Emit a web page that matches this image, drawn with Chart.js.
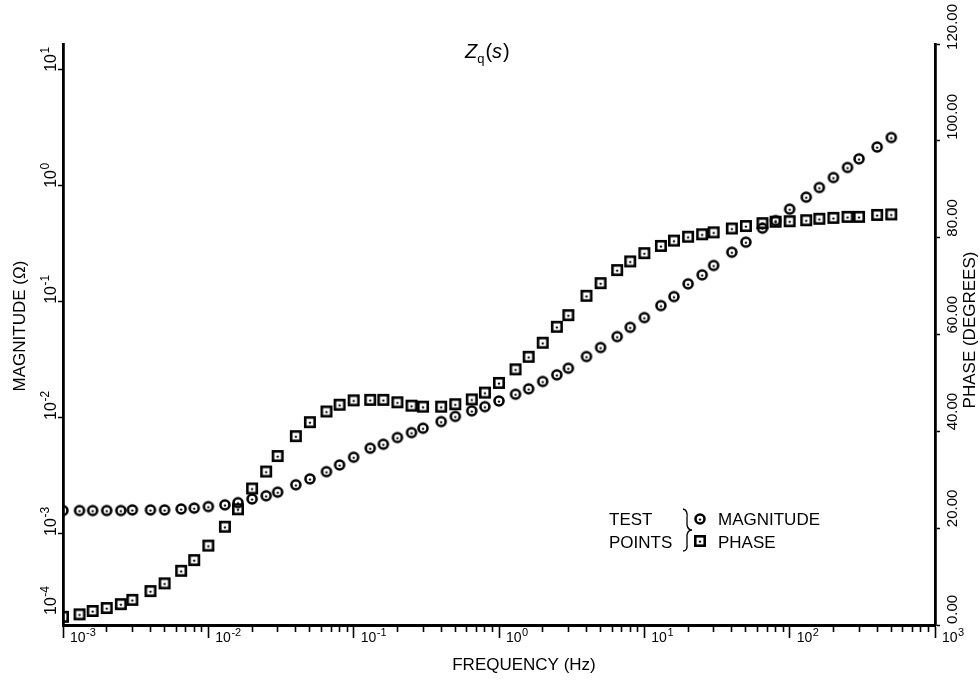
<!DOCTYPE html>
<html>
<head>
<meta charset="utf-8">
<script src="https://cdn.jsdelivr.net/npm/chart.js@4.4.1/dist/chart.umd.min.js"></script>
<style>
  body { margin: 0; background: #fff; }
</style>
</head>
<body>
<canvas id="myChart" width="980" height="685"></canvas>
<script>
// test frequencies (Hz)
var frequency = [
  0.001, 0.0013, 0.0016, 0.002, 0.0025, 0.003, 0.004, 0.005, 0.0065, 0.008,
  0.01, 0.013, 0.016, 0.02, 0.025, 0.03, 0.04, 0.05, 0.065, 0.08,
  0.1, 0.13, 0.16, 0.2, 0.25, 0.3, 0.4, 0.5, 0.65, 0.8,
  1, 1.3, 1.6, 2, 2.5, 3, 4, 5, 6.5, 8,
  10, 13, 16, 20, 25, 30, 40, 50, 65, 80,
  100, 130, 160, 200, 250, 300, 400, 500
];
// |Zq| in ohms
var magnitude = [
  0.00159, 0.00159, 0.00159, 0.00159, 0.00159, 0.00161, 0.00161, 0.00161, 0.00164, 0.00167,
  0.00172, 0.00178, 0.00186, 0.00200, 0.00213, 0.00229, 0.00265, 0.00298, 0.00344, 0.00393,
  0.00458, 0.00548, 0.00593, 0.00677, 0.00747, 0.00815, 0.00929, 0.0103, 0.0115, 0.0125,
  0.0140, 0.0160, 0.0178, 0.0206, 0.0235, 0.0268, 0.0338, 0.0404, 0.0502, 0.0603,
  0.0732, 0.0929, 0.111, 0.143, 0.171, 0.206, 0.268, 0.327, 0.432, 0.502,
  0.630, 0.799, 0.967, 1.18, 1.44, 1.71, 2.16, 2.61
];
// phase in degrees
var phase = [
  1.7, 2.2, 2.9, 3.5, 4.3, 5.2, 7.0, 8.6, 11.2, 13.4,
  16.4, 20.3, 23.9, 28.2, 31.7, 34.9, 39.0, 41.9, 44.1, 45.5,
  46.4, 46.5, 46.5, 46.0, 45.3, 45.1, 45.1, 45.6, 46.6, 48.0,
  50.0, 52.8, 55.4, 58.3, 61.6, 64.0, 68.0, 70.6, 73.3, 75.1,
  76.8, 78.3, 79.4, 80.2, 80.7, 81.1, 81.9, 82.4, 83.0, 83.3,
  83.4, 83.6, 83.9, 84.1, 84.3, 84.3, 84.7, 84.8
];

// axis ticks and labels
var freqDecades = [0.001, 0.01, 0.1, 1, 10, 100, 1000];
var freqExponents = ['-3', '-2', '-1', '0', '1', '2', '3'];
var magDecades = [0.0001, 0.001, 0.01, 0.1, 1, 10];
var magExponents = ['-4', '-3', '-2', '-1', '0', '1'];
var phaseTicks = [0, 20, 40, 60, 80, 100, 120];
var phaseLabels = ['0.00', '20.00', '40.00', '60.00', '80.00', '100.00', '120.00'];

var magMin = 1.64e-4, magMax = 16.7;
var FONT = '"Liberation Sans", Arial, Helvetica, sans-serif';

function makeMark(kind) {
  var c = document.createElement('canvas');
  c.width = 14; c.height = 14;
  var g = c.getContext('2d');
  g.strokeStyle = '#000';
  g.fillStyle = '#000';
  g.lineWidth = 2.6;
  if (kind == 'circle') {
    g.beginPath();
    g.arc(7, 7, 4.5, 0, Math.PI * 2);
    g.stroke();
  } else {
    g.strokeRect(2.3, 2.3, 9.4, 9.4);
  }
  g.beginPath();
  g.arc(7, 7.6, 1.2, 0, Math.PI * 2);
  g.fill();
  return c;
}
var circleMark = makeMark('circle');
var squareMark = makeMark('square');

// minor tick positions for the frequency axis
var freqTicks = [];
freqDecades.forEach(function (d, i) {
  freqTicks.push({ value: d, major: true });
  if (i < freqDecades.length - 1) {
    for (var k = 2; k <= 9; k++) freqTicks.push({ value: d * k, major: false });
  }
});

function powText(ctx, base, exp, x, y, size) {
  ctx.font = size + 'px ' + FONT;
  ctx.fillText(base, x, y);
  var w = ctx.measureText(base).width;
  ctx.font = Math.round(size * 0.75) + 'px ' + FONT;
  ctx.fillText(exp, x + w + 0.5, y - size * 0.45);
}

var textPlugin = {
  id: 'texts',
  afterDraw: function (chart) {
    var ctx = chart.ctx;
    var area = chart.chartArea;
    var xs = chart.scales.x, ys = chart.scales.y, ps = chart.scales.y2;
    ctx.save();
    ctx.fillStyle = '#000';
    ctx.textAlign = 'left';
    ctx.textBaseline = 'alphabetic';

    // frequency tick labels
    freqDecades.forEach(function (v, i) {
      powText(ctx, '10', freqExponents[i], xs.getPixelForValue(v) + 7, 642, 14);
    });

    // magnitude tick labels (rotated)
    magDecades.forEach(function (v, i) {
      var py = Math.min(ys.getPixelForValue(v), area.bottom - 12);
      ctx.save();
      ctx.translate(56, py + 2);
      ctx.rotate(-Math.PI / 2);
      powText(ctx, '10', magExponents[i], 0, 0, 16);
      ctx.restore();
    });

    // phase tick labels (rotated)
    ctx.font = '15px ' + FONT;
    phaseTicks.forEach(function (v, i) {
      var w = ctx.measureText(phaseLabels[i]).width;
      var py = Math.max(ps.getPixelForValue(v) - 1, w + 4);
      ctx.save();
      ctx.translate(957, py);
      ctx.rotate(-Math.PI / 2);
      ctx.fillText(phaseLabels[i], 0, 0);
      ctx.restore();
    });

    // axis titles
    ctx.font = '17px ' + FONT;
    ctx.textAlign = 'center';
    ctx.fillText('FREQUENCY (Hz)', 524, 670);
    ctx.save();
    ctx.translate(25, 326);
    ctx.rotate(-Math.PI / 2);
    ctx.fillText('MAGNITUDE (\u03A9)', 0, 0);
    ctx.restore();
    ctx.save();
    ctx.translate(975, 330);
    ctx.rotate(-Math.PI / 2);
    ctx.fillText('PHASE (DEGREES)', 0, 0);
    ctx.restore();

    // chart title Zq(s)
    ctx.textAlign = 'left';
    var tx = 465, ty = 58;
    ctx.font = 'italic 20px ' + FONT;
    ctx.fillText('Z', tx, ty);
    tx += ctx.measureText('Z').width;
    ctx.font = '13px ' + FONT;
    ctx.fillText('q', tx, ty + 5);
    tx += ctx.measureText('q').width + 1;
    ctx.font = '20px ' + FONT;
    ctx.fillText('(', tx, ty);
    tx += ctx.measureText('(').width;
    ctx.font = 'italic 20px ' + FONT;
    ctx.fillText('s', tx, ty);
    tx += ctx.measureText('s').width + 1;
    ctx.font = '20px ' + FONT;
    ctx.fillText(')', tx, ty);

    // legend
    ctx.font = '17px ' + FONT;
    ctx.fillText('TEST', 609, 525);
    ctx.fillText('POINTS', 609, 548);
    ctx.drawImage(circleMark, 700 - 7, 519 - 7);
    ctx.drawImage(squareMark, 700 - 7, 541 - 7);
    ctx.fillText('MAGNITUDE', 718, 525);
    ctx.fillText('PHASE', 718, 548);
    ctx.lineWidth = 1.3;
    ctx.strokeStyle = '#000';
    ctx.beginPath();
    ctx.moveTo(683, 509);
    ctx.quadraticCurveTo(688, 510, 687, 518);
    ctx.lineTo(687, 525);
    ctx.quadraticCurveTo(688, 530, 692, 530);
    ctx.quadraticCurveTo(688, 530, 687, 535);
    ctx.lineTo(687, 543);
    ctx.quadraticCurveTo(688, 551, 683, 551);
    ctx.stroke();

    ctx.restore();
  }
};

var ctx = document.getElementById('myChart').getContext('2d');
var myChart = new Chart(ctx, {
  type: 'scatter',
  data: {
    datasets: [{
      label: 'MAGNITUDE',
      data: frequency.map(function (f, i) { return { x: f, y: magnitude[i] }; }),
      yAxisID: 'y',
      pointStyle: circleMark,
      pointRadius: 6,
      showLine: false
    }, {
      label: 'PHASE',
      data: frequency.map(function (f, i) { return { x: f, y: phase[i] }; }),
      yAxisID: 'y2',
      pointStyle: squareMark,
      pointRadius: 6,
      showLine: false
    }]
  },
  options: {
    responsive: false,
    animation: false,
    devicePixelRatio: 1,
    layout: { padding: { top: 44, left: 0, right: 0, bottom: 0 } },
    plugins: {
      legend: { display: false },
      tooltip: { enabled: false }
    },
    scales: {
      x: {
        type: 'logarithmic',
        position: 'bottom',
        min: 0.001,
        max: 1000,
        border: { display: true, color: '#000', width: 3 },
        grid: {
          drawOnChartArea: false,
          tickLength: 13,
          tickColor: '#000',
          tickWidth: 1.6,
          tickBorderDash: function (c) { return c.tick && c.tick.major ? [] : [5, 30]; }
        },
        ticks: { display: false, autoSkip: false },
        afterBuildTicks: function (s) { s.ticks = freqTicks.map(function (t) { return { value: t.value, major: t.major }; }); },
        afterFit: function (s) { s.height = 60; }
      },
      y: {
        type: 'logarithmic',
        position: 'left',
        min: magMin,
        max: magMax,
        border: { display: true, color: '#000', width: 2.8 },
        grid: { drawOnChartArea: false, tickLength: 5, tickColor: '#000', tickWidth: 1.5 },
        ticks: { display: false, autoSkip: false },
        afterBuildTicks: function (s) {
          s.ticks = magDecades.filter(function (v) { return v >= magMin; }).map(function (v) { return { value: v }; });
        },
        afterFit: function (s) { s.width = 63; }
      },
      y2: {
        type: 'linear',
        position: 'right',
        min: 0,
        max: 120,
        border: { display: true, color: '#000', width: 2.8 },
        grid: { drawOnChartArea: false, tickLength: 5, tickColor: '#000', tickWidth: 1.5 },
        ticks: { display: false, autoSkip: false },
        afterBuildTicks: function (s) { s.ticks = phaseTicks.map(function (v) { return { value: v }; }); },
        afterFit: function (s) { s.width = 45; }
      }
    }
  },
  plugins: [textPlugin]
});
</script>
</body>
</html>
